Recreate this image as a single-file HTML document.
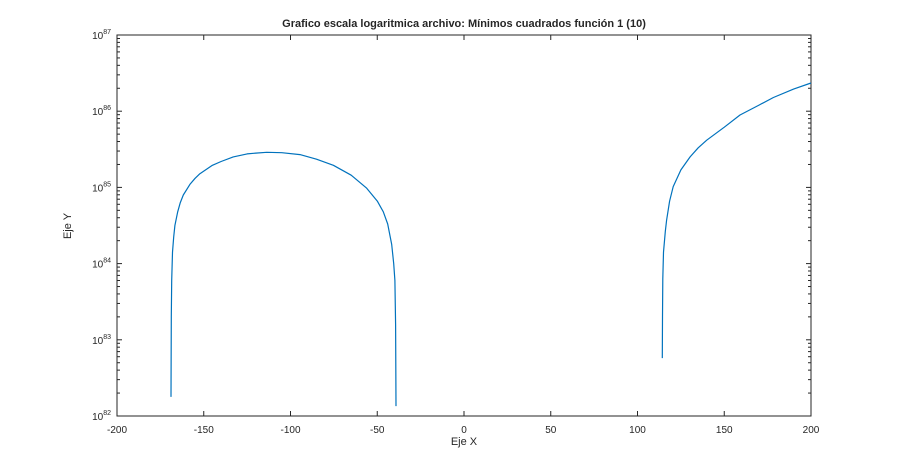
<!DOCTYPE html>
<html><head><meta charset="utf-8"><style>
body{margin:0;background:#fff;width:897px;height:468px;overflow:hidden}
svg{display:block;font-family:"Liberation Sans",Arial,sans-serif}
</style></head><body>
<svg id="chart" width="897" height="468">
<rect x="0" y="0" width="897" height="468" fill="#fff"/>
<text x="464" y="27" text-anchor="middle" font-size="11" font-weight="bold" fill="#262626">Grafico escala logaritmica archivo: Mínimos cuadrados función 1 (10)</text>
<g id="axes"></g>
<g id="series"></g>
<text x="464" y="445" text-anchor="middle" font-size="11" fill="#262626">Eje X</text>
<text x="0" y="0" transform="translate(71,226) rotate(-90)" text-anchor="middle" font-size="11" fill="#262626">Eje Y</text>
</svg>
<script>
const xTicks=[-200,-150,-100,-50,0,50,100,150,200];
const yDecades=[82,83,84,85,86,87];
const seg1X=[-168.9,-168.7,-168.5,-168.0,-167.3,-166.6,-165,-163.5,-161.8,-158,-155,-152.2,-145,-140,-133,-125,-120,-113.7,-105,-94.5,-85,-75.3,-65,-56.1,-50,-46.5,-44,-41.7,-40.5,-39.8,-39.4,-39.2];
const seg1Log=[82.25,83.3,83.78,84.15,84.35,84.50,84.68,84.80,84.90,85.04,85.12,85.18,85.29,85.34,85.40,85.44,85.45,85.46,85.455,85.43,85.37,85.29,85.16,84.99,84.82,84.68,84.52,84.25,84.0,83.78,83.2,82.13];
const seg2X=[114.3,114.4,114.6,115,116,116.8,118.5,120.6,125,130.3,135,139.9,150,159.1,170,178.3,190,200];
const seg2Log=[82.76,83.3,83.8,84.15,84.42,84.57,84.82,85.01,85.23,85.40,85.52,85.62,85.79,85.95,86.08,86.18,86.29,86.37];
const L=117,R=811,T=35,B=416;
const sx=v=>L+(v+200)/400*(R-L);
const sy=lg=>B-(lg-82)/5*(B-T);
const NS="http://www.w3.org/2000/svg";
const ax=document.getElementById('axes');
function mk(tag,attrs,parent){const e=document.createElementNS(NS,tag);for(const k in attrs)e.setAttribute(k,attrs[k]);parent.appendChild(e);return e;}
const frame=mk('rect',{x:L,y:T,width:R-L,height:B-T,fill:'none',stroke:'#262626','stroke-width':1},ax);


xTicks.forEach(v=>{
  const x=sx(v);
  mk('line',{x1:x,x2:x,y1:B,y2:B-5,stroke:'#262626'},ax);
  mk('line',{x1:x,x2:x,y1:T,y2:T+5,stroke:'#262626'},ax);
  const t=mk('text',{x:x,y:B+17,'text-anchor':'middle','font-size':10,fill:'#262626'},ax);
  t.textContent=v;
  
  
});
yDecades.forEach((d,i)=>{
  const y=sy(d);
  mk('line',{x1:L,x2:L+5,y1:y,y2:y,stroke:'#262626'},ax);
  mk('line',{x1:R,x2:R-5,y1:y,y2:y,stroke:'#262626'},ax);
  if(i<yDecades.length-1){
    for(let m=2;m<10;m++){const yy=sy(d+Math.log10(m));
      mk('line',{x1:L,x2:L+3,y1:yy,y2:yy,stroke:'#262626'},ax);
      mk('line',{x1:R,x2:R-3,y1:yy,y2:yy,stroke:'#262626'},ax);}
  }
  const t=mk('text',{x:L-6,y:y+4,'text-anchor':'end','font-size':10,fill:'#262626'},ax);
  t.innerHTML='10<tspan font-size="7" dy="-5">'+d+'</tspan>';
  
  
});
const sg=document.getElementById('series');
[[seg1X,seg1Log],[seg2X,seg2Log]].forEach((s,i)=>{
  const pts=s[0].map((v,j)=>sx(v).toFixed(1)+','+sy(s[1][j]).toFixed(1)).join(' ');
  const p=mk('polyline',{points:pts,fill:'none',stroke:'#0072bd','stroke-width':1.2,'stroke-linejoin':'round'},sg);
  
  
});
</script>
</body></html>
